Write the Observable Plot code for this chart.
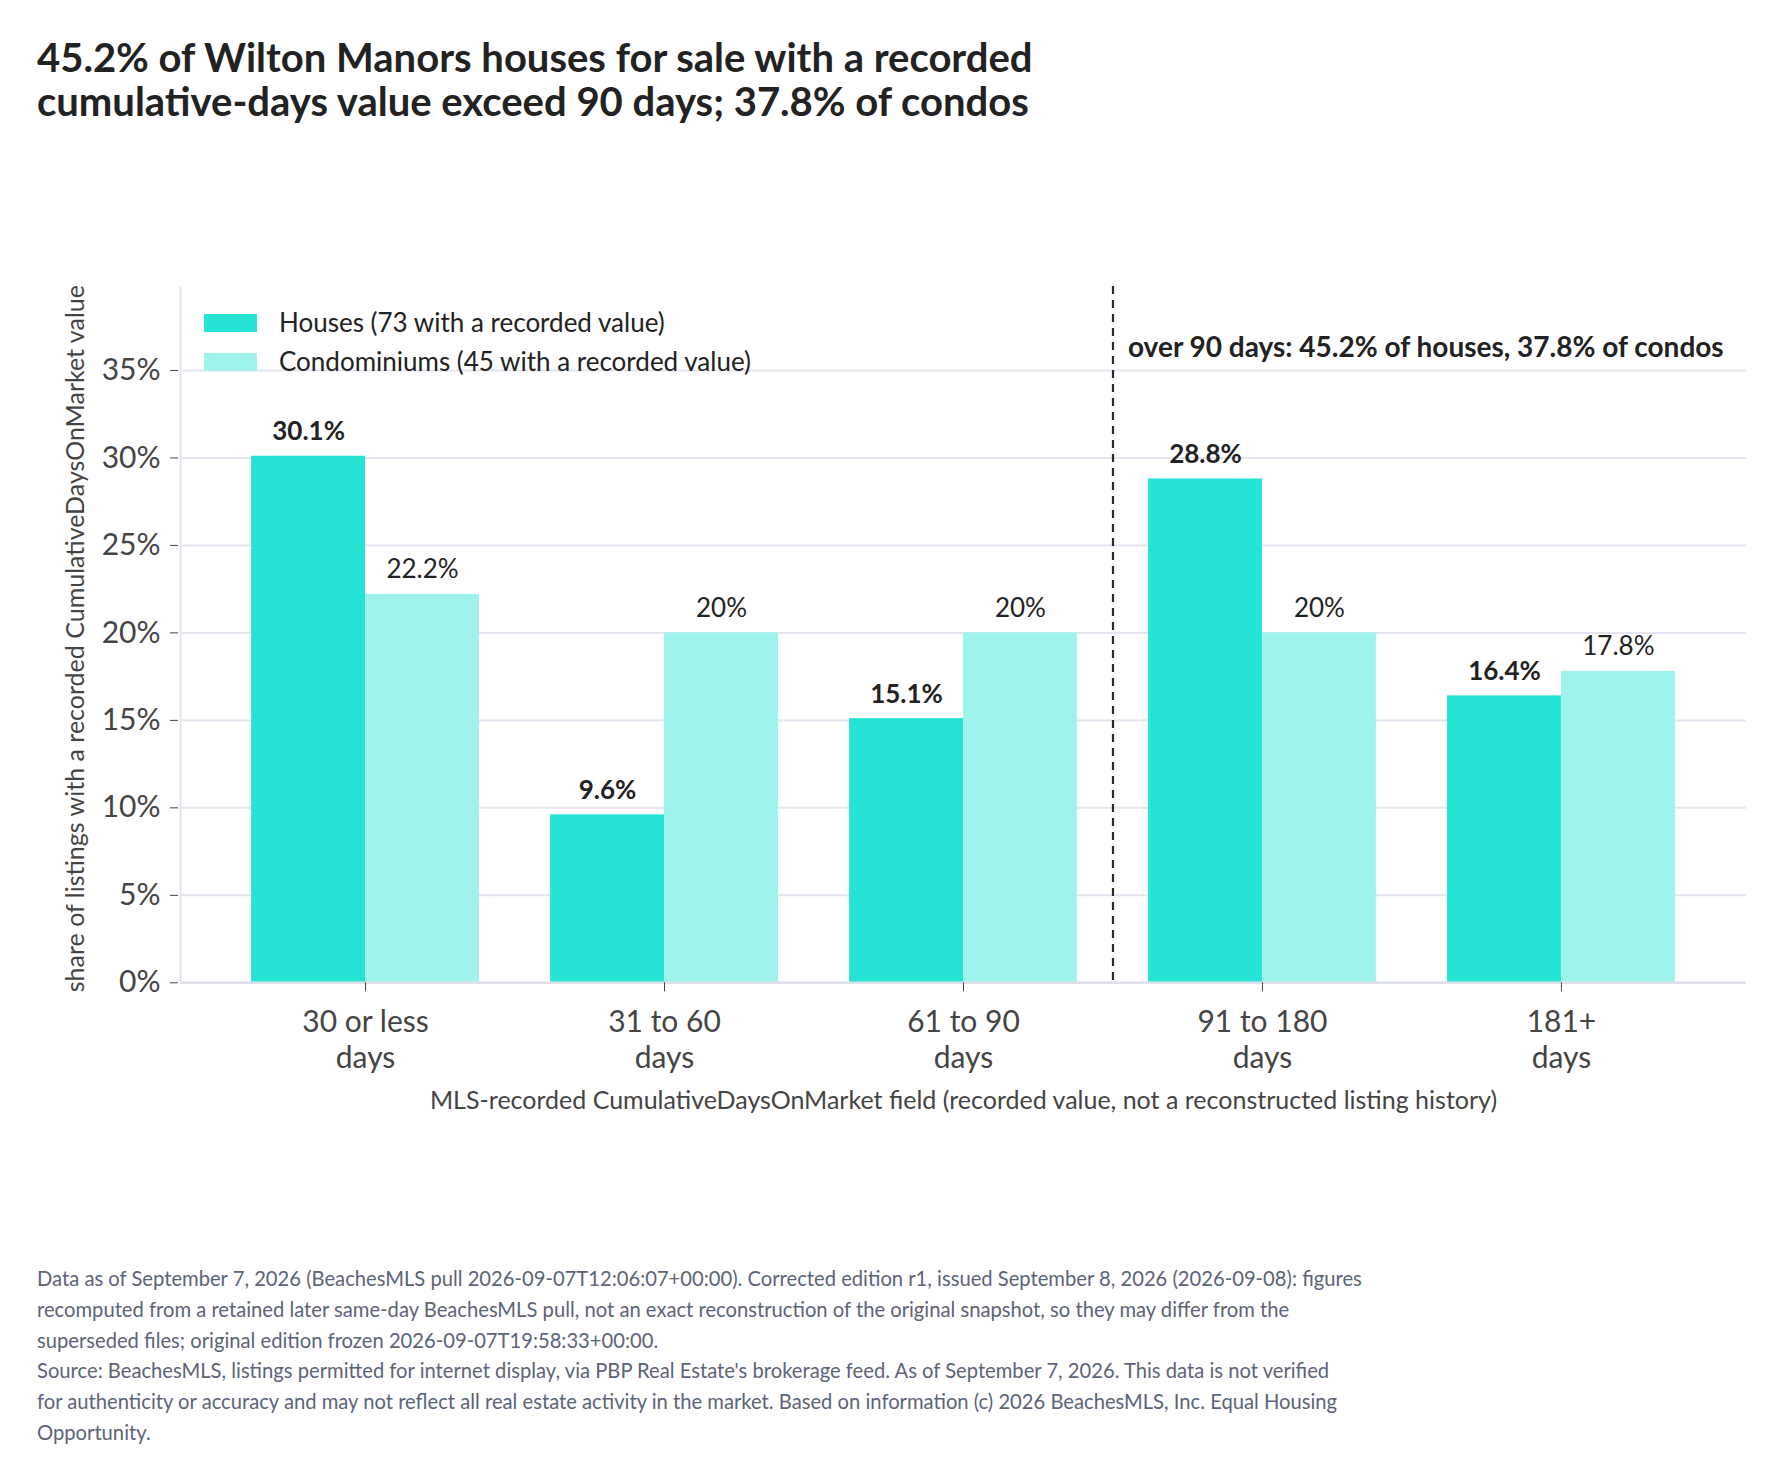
<!DOCTYPE html>
<html>
<head>
<meta charset="utf-8">
<script src="https://cdn.jsdelivr.net/npm/d3@7"></script>
<script src="https://cdn.jsdelivr.net/npm/@observablehq/plot@0.6"></script>
<style>
  html, body { margin: 0; padding: 0; background: #fff; }
  body { width: 1782px; height: 1477px; position: relative; font-family: Lato, "Noto Sans", sans-serif; }
  #title { position: absolute; left: 37px; top: 34.5px; font-size: 40px; line-height: 44px; font-weight: 700; color: #222; margin: 0; white-space: nowrap; }
  #chart { position: absolute; left: 0; top: 130px; }
  #legend { position: absolute; left: 204px; top: 310px; z-index: 2; }
  .lg { position: relative; height: 39px; }
  .sw { position: absolute; left: 0; width: 53px; height: 18px; top: 4px; }
  .lt { position: absolute; left: 75px; top: -1.4px; font-size: 26px; line-height: 26px; color: #222; white-space: nowrap; }
  #note { position: absolute; left: 37px; top: 1262.7px; font-size: 20.2px; line-height: 30.9px; color: #5c6478; white-space: nowrap; }
</style>
</head>
<body>
<h1 id="title"></h1>
<div id="chart"></div>
<div id="legend"></div>
<div id="note"></div>
<script>
// ---- data ----
const categories = ["30 or less\ndays", "31 to 60\ndays", "61 to 90\ndays", "91 to 180\ndays", "181+\ndays"];
const houses = [30.1, 9.6, 15.1, 28.8, 16.4];
const condos = [22.2, 20, 20, 20, 17.8];
const seriesNames = ["Houses (73 with a recorded value)", "Condominiums (45 with a recorded value)"];
const seriesColors = ["#25e4d6", "#9ef3ec"];
const yTicks = [0, 5, 10, 15, 20, 25, 30, 35];
const yMax = 39.8;
const splitCategory = "91 to 180\ndays";
const titleLines = [
  "45.2% of Wilton Manors houses for sale with a recorded",
  "cumulative-days value exceed 90 days; 37.8% of condos"
];
const annotation = "over 90 days: 45.2% of houses, 37.8% of condos";
const xTitle = "MLS-recorded CumulativeDaysOnMarket field (recorded value, not a reconstructed listing history)";
const yTitle = "share of listings with a recorded CumulativeDaysOnMarket value";
const noteLines = [
  "Data as of September 7, 2026 (BeachesMLS pull 2026-09-07T12:06:07+00:00). Corrected edition r1, issued September 8, 2026 (2026-09-08): figures",
  "recomputed from a retained later same-day BeachesMLS pull, not an exact reconstruction of the original snapshot, so they may differ from the",
  "superseded files; original edition frozen 2026-09-07T19:58:33+00:00.",
  "Source: BeachesMLS, listings permitted for internet display, via PBP Real Estate's brokerage feed. As of September 7, 2026. This data is not verified",
  "for authenticity or accuracy and may not reflect all real estate activity in the market. Based on information (c) 2026 BeachesMLS, Inc. Equal Housing",
  "Opportunity."
];

// ---- layout helpers ----
const barW = 0.381;           // each bar's width in category units
const pad = 0.619;            // outer padding in category units
const n = categories.length;
const idx = categories.map((_, i) => i);
const boundary = categories.indexOf(splitCategory) - 0.5;

const rows = [];
categories.forEach((c, i) => {
  rows.push({i, s: 0, v: houses[i], x1: i - barW, x2: i});
  rows.push({i, s: 1, v: condos[i], x1: i, x2: i + barW});
});
const fmt = v => `${v}%`;

document.getElementById("title").innerHTML = titleLines.join("<br>");
document.getElementById("note").innerHTML = noteLines.join("<br>");
document.getElementById("legend").innerHTML = seriesNames.map((s, k) =>
  `<div class="lg"><div class="sw" style="background:${seriesColors[k]}"></div><div class="lt">${s}</div></div>`).join("");

const chart = Plot.plot({
  width: 1782,
  height: 1000,
  marginTop: 156,
  marginLeft: 180,
  marginRight: 36,
  marginBottom: 147.7,
  style: {fontFamily: "Lato, 'Noto Sans', sans-serif", background: "transparent"},
  x: {type: "linear", domain: [-pad, n - 1 + pad], axis: null},
  y: {domain: [0, yMax], axis: null},
  marks: [
    Plot.gridY(yTicks, {stroke: "#e4e5ef", strokeOpacity: 1, strokeWidth: 2}),
    Plot.ruleX([-pad], {stroke: "#e4e5ef", strokeWidth: 2}),
    Plot.rectY(rows, {x1: "x1", x2: "x2", y: "v", fill: d => seriesColors[d.s]}),
    Plot.ruleY([0], {stroke: "#dfe0ea", strokeWidth: 2.5}),
    Plot.axisY({ticks: yTicks, tickFormat: fmt, tickSize: 8, tickPadding: 10, dx: -2,
      fontSize: 30, color: "#444", label: null}),
    Plot.axisX({ticks: idx, tickFormat: i => categories[i], tickSize: 9, tickPadding: 14.5,
      fontSize: 30, lineHeight: 1.2, color: "#444", label: null}),
    Plot.ruleX([boundary], {stroke: "#2a2a2a", strokeWidth: 2.2, strokeDasharray: "8,6"}),
    Plot.text(rows.filter(d => d.s === 0), {x: d => (d.x1 + d.x2) / 2, y: "v", text: d => fmt(d.v),
      dy: -16, lineAnchor: "bottom", fontSize: 26, fontWeight: "bold", fill: "#222"}),
    Plot.text(rows.filter(d => d.s === 1), {x: d => (d.x1 + d.x2) / 2, y: "v", text: d => fmt(d.v),
      dy: -16, lineAnchor: "bottom", fontSize: 26, fill: "#222"}),
    Plot.text([annotation], {x: () => boundary, frameAnchor: "top", dx: 15, dy: 70, textAnchor: "start",
      lineAnchor: "bottom", fontSize: 28, fontWeight: "bold", fill: "#222"}),
    Plot.text([xTitle], {frameAnchor: "bottom", dy: 126, textAnchor: "middle", lineAnchor: "bottom", fontSize: 25, fill: "#444"}),
    Plot.text([yTitle], {frameAnchor: "left", rotate: -90, dx: -97, dy: 4, textAnchor: "middle", lineAnchor: "bottom", fontSize: 25, fill: "#444"})
  ]
});
document.getElementById("chart").appendChild(chart);
</script>
</body>
</html>
